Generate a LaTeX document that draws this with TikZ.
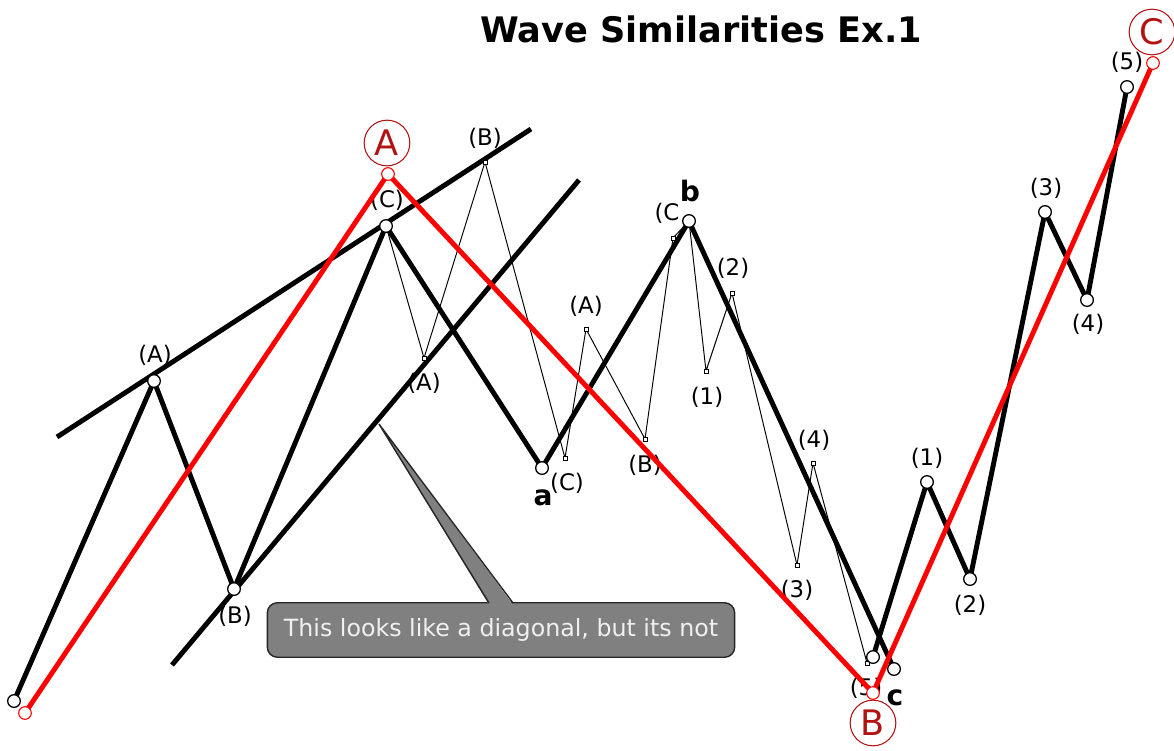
\documentclass[tikz,border=0pt]{standalone}
\usepackage{fontspec}
\setmainfont{DejaVu Sans}
\usepackage{tikz}

\definecolor{wavered}{RGB}{255,0,0}
\definecolor{circlered}{RGB}{178,18,18}
\definecolor{notegray}{RGB}{128,128,128}

\begin{document}
\begin{tikzpicture}[x = 0.02cm, y = -0.02cm,
    heavy/.style = {line width = 2.8pt, line join = round},
    fine/.style = {line width = 0.55pt},
    pivot/.style = {circle, draw, fill = white, line width = 0.75pt, inner sep = 0pt, minimum size = 7.2pt},
    redpivot/.style = {pivot, draw = wavered, line width = 0.6pt},
    tick/.style = {rectangle, draw, fill = white, line width = 0.4pt, inner sep = 0pt, minimum size = 2.2pt},
    wavelabel/.style = {font = \fontsize{13}{15}\selectfont, inner sep = 0pt},
    letterlabel/.style = {font = \bfseries\fontsize{16}{18}\selectfont, inner sep = 0pt},
    bigletter/.style = {circle, draw = circlered, text = circlered, line width = 0.6pt, inner sep = 0pt,
        minimum size = 26pt, font = \fontsize{20}{22}\selectfont}]

    \useasboundingbox (0,0) rectangle (1174,751);

    \node[font = \bfseries\fontsize{20}{24}\selectfont] (title) at (701,29) {Wave Similarities Ex.1};

    % trend lines
    \coordinate (top0) at (57,437);
    \coordinate (top1) at (531,129);
    \coordinate (bot0) at (172,665);
    \coordinate (bot1) at (579,180);
    \draw[heavy] (top0) -- (top1);
    \draw[heavy] (bot0) -- (bot1);

    % points of the waves
    \coordinate (w0) at (14,701);
    \coordinate (wA) at (154,381);
    \coordinate (wB) at (234,589);
    \coordinate (wC) at (386,226);
    \coordinate (wa) at (542,468);
    \coordinate (wb) at (689,221);
    \coordinate (wc) at (894,669);

    \coordinate (v0) at (873,657);
    \coordinate (v1) at (927,482);
    \coordinate (v2) at (970,579);
    \coordinate (v3) at (1045,212);
    \coordinate (v4) at (1087,300);
    \coordinate (v5) at (1127,87);

    \coordinate (tA1) at (424,358);
    \coordinate (tB1) at (485,162);
    \coordinate (tC1) at (565,458);
    \coordinate (tA2) at (586,329);
    \coordinate (tB2) at (645,439);
    \coordinate (tC2) at (673,238);
    \coordinate (t1) at (706,371);
    \coordinate (t2) at (732,293);
    \coordinate (t3) at (797,565);
    \coordinate (t4) at (813,463);
    \coordinate (t5) at (867,663);

    \coordinate (r0) at (25,713);
    \coordinate (rA) at (388,174);
    \coordinate (rB) at (873,693);
    \coordinate (rC) at (1153,63);

    % small waves
    \draw[fine] (wC) -- (tA1) -- (tB1) -- (tC1) -- (tA2) -- (tB2) -- (tC2) -- (wb);
    \draw[fine] (wb) -- (t1) -- (t2) -- (t3) -- (t4) -- (t5);
    \node[tick] (mA1) at (tA1) {};
    \node[tick] (mB1) at (tB1) {};
    \node[tick] (mC1) at (tC1) {};
    \node[tick] (mA2) at (tA2) {};
    \node[tick] (mB2) at (tB2) {};
    \node[tick] (mC2) at (tC2) {};
    \node[tick] (m1) at (t1) {};
    \node[tick] (m2) at (t2) {};
    \node[tick] (m3) at (t3) {};
    \node[tick] (m4) at (t4) {};
    \node[tick] (m5) at (t5) {};

    \node[wavelabel] (lA1) at (424,383) {(A)};
    \node[wavelabel] (lB1) at (485,138) {(B)};
    \node[wavelabel] (lC1) at (567,483) {(C)};
    \node[wavelabel] (lA2) at (586,306) {(A)};
    \node[wavelabel] (lB2) at (645,465) {(B)};
    \node[wavelabel] (lC2) at (667,213) {(C};
    \node[wavelabel] (l1) at (707,397) {(1)};
    \node[wavelabel] (l2) at (733,268) {(2)};
    \node[wavelabel] (l3) at (797,590) {(3)};
    \node[wavelabel] (l4) at (814,440) {(4)};
    \node[wavelabel] (l5) at (866,688) {(5)};

    % big waves
    \draw[heavy] (w0) -- (wA) -- (wB) -- (wC) -- (wa) -- (wb) -- (wc);
    \draw[heavy] (v0) -- (v1) -- (v2) -- (v3) -- (v4) -- (v5);

    \node[pivot] (pw0) at (w0) {};
    \node[pivot] (pwA) at (wA) {};
    \node[pivot] (pwB) at (wB) {};
    \node[pivot] (pwC) at (wC) {};
    \node[pivot] (pwa) at (wa) {};
    \node[pivot] (pwb) at (wb) {};
    \node[pivot] (pwc) at (wc) {};
    \node[pivot] (pv0) at (v0) {};
    \node[pivot] (pv1) at (v1) {};
    \node[pivot] (pv2) at (v2) {};
    \node[pivot] (pv3) at (v3) {};
    \node[pivot] (pv4) at (v4) {};
    \node[pivot] (pv5) at (v5) {};

    \node[wavelabel] (lwA) at (155,355) {(A)};
    \node[wavelabel] (lwB) at (235,616) {(B)};
    \node[wavelabel] (lwC) at (387,200) {(C)};
    \node[wavelabel] (lv1) at (927,458) {(1)};
    \node[wavelabel] (lv2) at (970,605) {(2)};
    \node[wavelabel] (lv3) at (1046,188) {(3)};
    \node[wavelabel] (lv4) at (1088,324) {(4)};
    \node[wavelabel] (lv5) at (1127,62) {(5)};

    \node[letterlabel] (la) at (543,498) {a};
    \node[letterlabel] (lb) at (690,191) {b};
    \node[letterlabel] (lc) at (895,698) {c};

    % red wave
    \draw[heavy, wavered] (r0) -- (rA) -- (rB) -- (rC);
    \node[redpivot] (pr0) at (r0) {};
    \node[redpivot] (prA) at (rA) {};
    \node[redpivot] (prB) at (rB) {};
    \node[redpivot] (prC) at (rC) {};

    \node[bigletter] (capA) at (387,143) {A};
    \node[bigletter] (capB) at (873,723) {B};
    \node[bigletter] (capC) at (1152,32) {C};

    % note
    \node[rectangle, rounded corners = 5.7pt, draw = black!85, fill = notegray, line width = 0.8pt,
        minimum width = 266pt, minimum height = 31pt, text = white!94!black,
        font = \fontsize{13.5}{16}\selectfont] (note) at (501,630) {This looks like a diagonal, but its not};
    \coordinate (tip) at (379,424);
    \coordinate (baseL) at (489,603);
    \coordinate (baseR) at (513,603);
    \fill[notegray] (tip) -- ([yshift = -1pt]baseL) -- ([yshift = -1pt]baseR) -- cycle;
    \draw[line width = 0.8pt, black!85] (baseL) -- (tip) -- (baseR);

\end{tikzpicture}
\end{document}
